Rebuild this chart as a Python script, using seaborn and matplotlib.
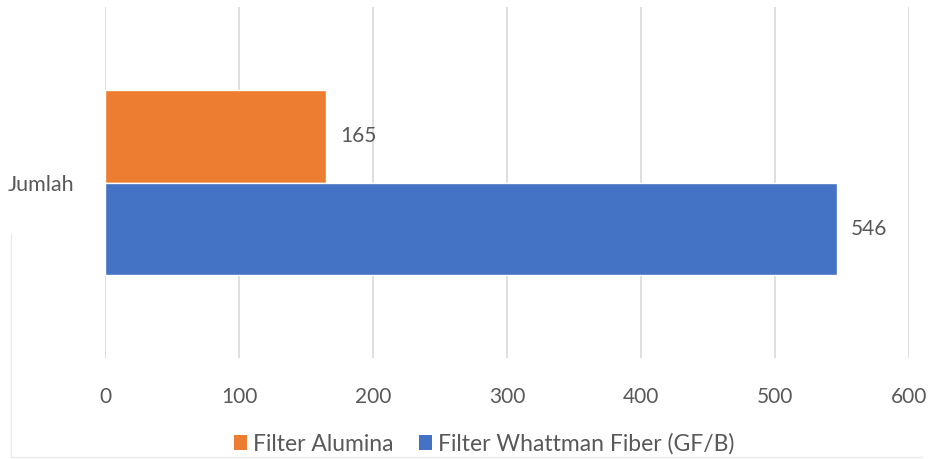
import matplotlib
matplotlib.use("Agg")
import matplotlib.pyplot as plt
import seaborn as sns
import pandas as pd
from matplotlib.patches import Patch
from matplotlib.lines import Line2D

categories = ["Jumlah"]
series_names = ["Filter Alumina", "Filter Whattman Fiber (GF/B)"]
series_values = [165, 546]
series_colors = ["#ED7D31", "#4472C4"]
x_ticks = [0, 100, 200, 300, 400, 500, 600]

df = pd.DataFrame({
    "kategori": categories * len(series_names),
    "seri": series_names,
    "nilai": series_values,
})

sns.set_theme(style="white")
plt.rcParams["font.family"] = ["Lato", "DejaVu Sans"]
text_color = "#595959"
fs = 15

fig = plt.figure(figsize=(9.31, 4.59), dpi=100)
ax = fig.add_axes([0.1128, 0.22, 0.8636, 0.7647])

sns.barplot(data=df, y="kategori", x="nilai", hue="seri", orient="h",
            palette=series_colors, width=0.525, ax=ax, legend=False,
            saturation=1)

for container in ax.containers:
    ax.bar_label(container, padding=10, fontsize=fs, color=text_color)

ax.set_xlim(0, 600)
ax.set_xticks(x_ticks)
ax.set_xticklabels([str(t) for t in x_ticks])
ax.set_xlabel("")
ax.set_ylabel("")
ax.xaxis.grid(True, color="#D9D9D9", linewidth=1.2)
ax.set_axisbelow(True)
for spine in ax.spines.values():
    spine.set_visible(False)
ax.tick_params(axis="x", length=0, pad=21, labelsize=fs, labelcolor=text_color)
ax.tick_params(axis="y", length=0, pad=22, labelsize=15.5, labelcolor=text_color)

handles = [Patch(facecolor=c, edgecolor="none") for c in series_colors]
fig.legend(handles, series_names, loc="center", bbox_to_anchor=(0.52, 0.033),
           ncol=2, frameon=False, fontsize=16.5, labelcolor=text_color,
           handlelength=0.55, handleheight=0.65, handletextpad=0.25,
           columnspacing=1.15)

# faint chart-area border fragments
fig.add_artist(Line2D([0.0115, 0.0115], [0.005, 0.49], color="#EBEBEB", lw=1))
fig.add_artist(Line2D([0.0115, 0.99], [0.005, 0.005], color="#EBEBEB", lw=1))

fig.savefig("out.png", dpi=100)
